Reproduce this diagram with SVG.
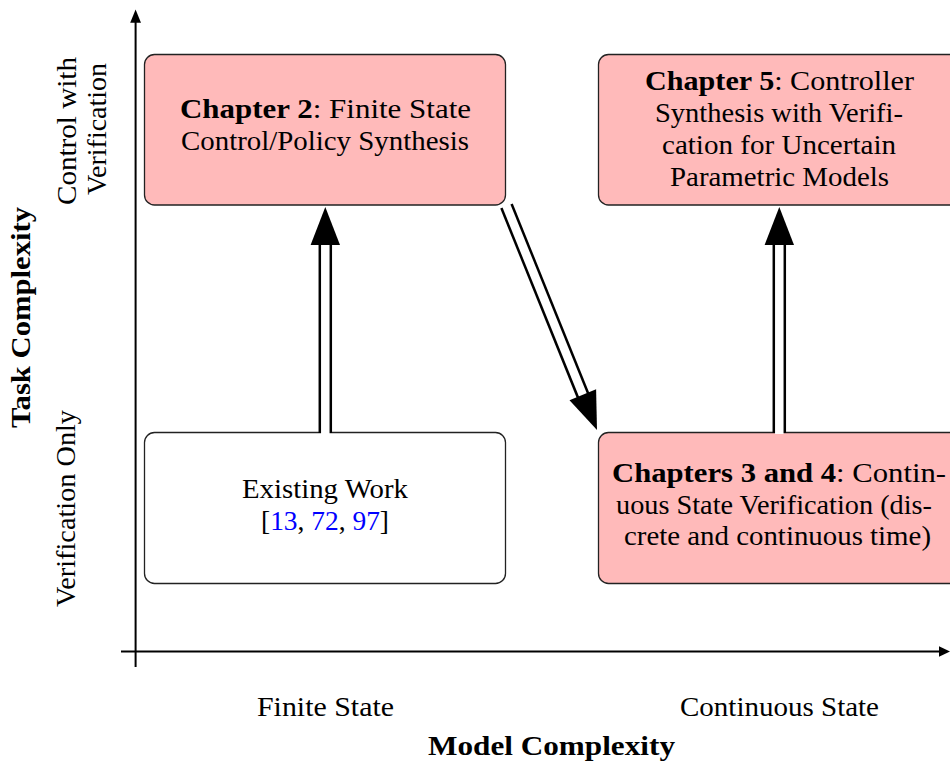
<svg xmlns="http://www.w3.org/2000/svg" width="950" height="762" viewBox="0 0 950 762">
  <style>
    text { font-family: "Liberation Serif", "DejaVu Serif", serif; font-size: 27px; fill: #000; }
    .b { font-weight: bold; }
    .cite { fill: #0000ff; }
    .box { stroke: #222; stroke-width: 1.3; }
    .hi { fill: #ffbaba; }
    .plain { fill: #ffffff; }
    .axis { stroke: #000; stroke-width: 2; fill: none; }
    .dbl-out { stroke: #000; stroke-width: 13.5; fill: none; }
    .dbl-in { stroke: #fff; stroke-width: 8.5; fill: none; }
  </style>

  <rect width="950" height="762" fill="#fff"/>

  <!-- axes -->
  <g id="axes">
    <line class="axis" x1="135.6" y1="667" x2="135.6" y2="20"/>
    <polygon points="135.6,9.5 141,22.8 130.2,22.8" fill="#000"/>
    <line class="axis" x1="121" y1="651.5" x2="940" y2="651.5"/>
    <polygon points="950,651.5 939,646.3 939,656.7" fill="#000"/>
  </g>

  <!-- axis labels -->
  <g id="axis-labels">
    <text x="257" y="716" textLength="137" lengthAdjust="spacingAndGlyphs">Finite State</text>
    <text x="680" y="716" textLength="199" lengthAdjust="spacingAndGlyphs">Continuous State</text>
    <text class="b" x="428" y="755" textLength="247" lengthAdjust="spacingAndGlyphs">Model Complexity</text>
    <text class="b" transform="translate(30,428) rotate(-90)" textLength="221" lengthAdjust="spacingAndGlyphs">Task Complexity</text>
    <text transform="translate(75,607) rotate(-90)" textLength="197" lengthAdjust="spacingAndGlyphs">Verification Only</text>
    <text transform="translate(76,205) rotate(-90)" textLength="148" lengthAdjust="spacingAndGlyphs">Control with</text>
    <text transform="translate(106,195) rotate(-90)" textLength="132" lengthAdjust="spacingAndGlyphs">Verification</text>
  </g>

  <!-- nodes -->
  <g id="ch2">
    <rect class="box hi" x="144.5" y="54.5" width="361" height="150.5" rx="10"/>
    <text x="180" y="118" textLength="291" lengthAdjust="spacingAndGlyphs"><tspan class="b">Chapter 2</tspan>: Finite State</text>
    <text x="181" y="150" textLength="288" lengthAdjust="spacingAndGlyphs">Control/Policy Synthesis</text>
  </g>

  <g id="ch5">
    <rect class="box hi" x="598.5" y="54.5" width="361" height="150.5" rx="10"/>
    <text x="645" y="90" textLength="269" lengthAdjust="spacingAndGlyphs"><tspan class="b">Chapter 5</tspan>: Controller</text>
    <text x="655" y="122" textLength="248" lengthAdjust="spacingAndGlyphs">Synthesis with Verifi-</text>
    <text x="662" y="154" textLength="234" lengthAdjust="spacingAndGlyphs">cation for Uncertain</text>
    <text x="670" y="186" textLength="219" lengthAdjust="spacingAndGlyphs">Parametric Models</text>
  </g>

  <g id="existing">
    <rect class="box plain" x="144.5" y="432.5" width="361" height="151" rx="10"/>
    <text x="242" y="498" textLength="166" lengthAdjust="spacingAndGlyphs">Existing Work</text>
    <text x="261" y="530" textLength="128" lengthAdjust="spacingAndGlyphs">[<tspan class="cite">13</tspan>, <tspan class="cite">72</tspan>, <tspan class="cite">97</tspan>]</text>
  </g>

  <g id="ch34">
    <rect class="box hi" x="598.5" y="432.5" width="361" height="151" rx="10"/>
    <text x="612" y="482" textLength="334" lengthAdjust="spacingAndGlyphs"><tspan class="b">Chapters 3 and 4</tspan>: Contin-</text>
    <text x="616" y="513.5" textLength="316" lengthAdjust="spacingAndGlyphs">uous State Verification (dis-</text>
    <text x="624" y="545" textLength="307" lengthAdjust="spacingAndGlyphs">crete and continuous time)</text>
  </g>

  <!-- connectors: double-lined arrows -->
  <g id="connectors">
    <path class="dbl-out" d="M325.3 433 V244"/>
    <path class="dbl-in" d="M325.3 434 V243"/>
    <polygon points="325.3,207 340,245 310.6,245" fill="#000"/>

    <path class="dbl-out" d="M779.3 433 V244"/>
    <path class="dbl-in" d="M779.3 434 V243"/>
    <polygon points="779.3,207 794,245 764.6,245" fill="#000"/>

    <path class="dbl-out" d="M506.5 206 L583.1 395.6"/>
    <path class="dbl-in" d="M506.1 205 L583.5 396.5"/>
    <polygon points="597,430 596.1,389.3 569.5,400.3" fill="#000"/>
  </g>
</svg>
